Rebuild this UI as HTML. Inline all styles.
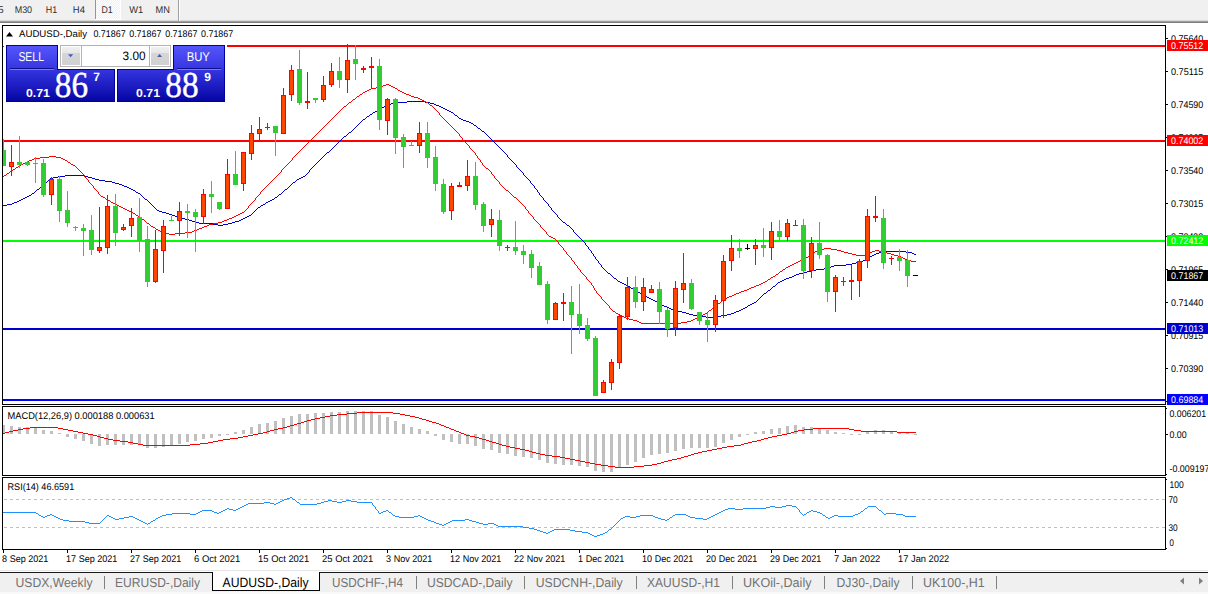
<!DOCTYPE html>
<html><head><meta charset="utf-8"><title>AUDUSD-,Daily</title>
<style>
html,body{margin:0;padding:0;background:#fff;overflow:hidden}
svg{display:block;font-family:"Liberation Sans",sans-serif;text-rendering:geometricPrecision}
</style></head><body>
<svg width="1208" height="594" viewBox="0 0 1208 594">
<g shape-rendering="crispEdges">
<rect x="0" y="0" width="1208" height="20" fill="#f0f0f0"/>
<rect x="0" y="20" width="1208" height="1" fill="#d6d6d6"/>
<rect x="0" y="21" width="1208" height="1" fill="#a0a0a0"/>
<rect x="0" y="22" width="1208" height="1" fill="#7e7e7e"/>
<defs><pattern id="hatch" width="2" height="2" patternUnits="userSpaceOnUse"><rect width="2" height="2" fill="#f0f0f0"/><rect width="1" height="1" fill="#fff"/><rect x="1" y="1" width="1" height="1" fill="#fff"/></pattern></defs>
<rect x="95" y="0" width="1" height="19" fill="#949494"/>
<rect x="96" y="0" width="24" height="19" fill="url(#hatch)"/>
<rect x="120" y="0" width="1" height="20" fill="#fff"/>
<rect x="95" y="19" width="26" height="1" fill="#fff"/>
<rect x="178" y="0" width="1" height="21" fill="#a0a0a0"/>
<rect x="179" y="0" width="1" height="21" fill="#ffffff"/>
<rect x="2" y="25" width="1164" height="1" fill="#000"/>
<rect x="2" y="404" width="1164" height="1" fill="#000"/>
<rect x="2" y="25" width="1" height="380" fill="#000"/>
<rect x="1165" y="25" width="1" height="380" fill="#000"/>
<rect x="2" y="406" width="1164" height="1" fill="#000"/>
<rect x="2" y="475" width="1164" height="1" fill="#000"/>
<rect x="2" y="406" width="1" height="70" fill="#000"/>
<rect x="1165" y="406" width="1" height="70" fill="#000"/>
<rect x="2" y="477" width="1164" height="1" fill="#000"/>
<rect x="2" y="549" width="1164" height="1" fill="#000"/>
<rect x="2" y="477" width="1" height="73" fill="#000"/>
<rect x="1165" y="477" width="1" height="73" fill="#000"/>
<path d="M4 499.5H1165" stroke="#c0c0c0" stroke-width="1" stroke-dasharray="3 3" fill="none"/>
<path d="M4 527.5H1165" stroke="#c0c0c0" stroke-width="1" stroke-dasharray="3 3" fill="none"/>
<rect x="3" y="45" width="1162" height="2" fill="#ff0000"/>
<rect x="3" y="140" width="1162" height="2" fill="#ff0000"/>
<rect x="3" y="240" width="1162" height="2" fill="#00ff00"/>
<rect x="3" y="328" width="1162" height="2" fill="#0000cd"/>
<rect x="3" y="399" width="1162" height="2" fill="#0000ff"/>
<rect x="3" y="425" width="2" height="9" fill="#c0c0c0"/>
<rect x="10" y="426" width="3" height="8" fill="#c0c0c0"/>
<rect x="18" y="427" width="3" height="7" fill="#c0c0c0"/>
<rect x="26" y="427" width="3" height="7" fill="#c0c0c0"/>
<rect x="34" y="428" width="3" height="6" fill="#c0c0c0"/>
<rect x="42" y="430" width="3" height="4" fill="#c0c0c0"/>
<rect x="50" y="431" width="3" height="3" fill="#c0c0c0"/>
<rect x="58" y="433" width="3" height="1" fill="#c0c0c0"/>
<rect x="66" y="434" width="3" height="3" fill="#c0c0c0"/>
<rect x="74" y="434" width="3" height="5" fill="#c0c0c0"/>
<rect x="82" y="434" width="3" height="7" fill="#c0c0c0"/>
<rect x="90" y="434" width="3" height="10" fill="#c0c0c0"/>
<rect x="98" y="434" width="3" height="12" fill="#c0c0c0"/>
<rect x="106" y="434" width="3" height="11" fill="#c0c0c0"/>
<rect x="114" y="434" width="3" height="11" fill="#c0c0c0"/>
<rect x="122" y="434" width="3" height="11" fill="#c0c0c0"/>
<rect x="130" y="434" width="3" height="11" fill="#c0c0c0"/>
<rect x="138" y="434" width="3" height="11" fill="#c0c0c0"/>
<rect x="146" y="434" width="3" height="14" fill="#c0c0c0"/>
<rect x="154" y="434" width="3" height="14" fill="#c0c0c0"/>
<rect x="162" y="434" width="3" height="13" fill="#c0c0c0"/>
<rect x="170" y="434" width="3" height="11" fill="#c0c0c0"/>
<rect x="178" y="434" width="3" height="10" fill="#c0c0c0"/>
<rect x="186" y="434" width="3" height="8" fill="#c0c0c0"/>
<rect x="194" y="434" width="3" height="7" fill="#c0c0c0"/>
<rect x="202" y="434" width="3" height="5" fill="#c0c0c0"/>
<rect x="210" y="434" width="3" height="4" fill="#c0c0c0"/>
<rect x="218" y="434" width="3" height="2" fill="#c0c0c0"/>
<rect x="226" y="434" width="3" height="1" fill="#c0c0c0"/>
<rect x="234" y="432" width="3" height="2" fill="#c0c0c0"/>
<rect x="242" y="430" width="3" height="4" fill="#c0c0c0"/>
<rect x="250" y="427" width="3" height="7" fill="#c0c0c0"/>
<rect x="258" y="424" width="3" height="10" fill="#c0c0c0"/>
<rect x="266" y="423" width="3" height="11" fill="#c0c0c0"/>
<rect x="274" y="421" width="3" height="13" fill="#c0c0c0"/>
<rect x="282" y="418" width="3" height="16" fill="#c0c0c0"/>
<rect x="290" y="416" width="3" height="18" fill="#c0c0c0"/>
<rect x="298" y="414" width="3" height="20" fill="#c0c0c0"/>
<rect x="306" y="414" width="3" height="20" fill="#c0c0c0"/>
<rect x="314" y="413" width="3" height="21" fill="#c0c0c0"/>
<rect x="322" y="413" width="3" height="21" fill="#c0c0c0"/>
<rect x="330" y="412" width="3" height="22" fill="#c0c0c0"/>
<rect x="338" y="412" width="3" height="22" fill="#c0c0c0"/>
<rect x="346" y="411" width="3" height="23" fill="#c0c0c0"/>
<rect x="354" y="411" width="3" height="23" fill="#c0c0c0"/>
<rect x="362" y="411" width="3" height="23" fill="#c0c0c0"/>
<rect x="370" y="411" width="3" height="23" fill="#c0c0c0"/>
<rect x="378" y="415" width="3" height="19" fill="#c0c0c0"/>
<rect x="386" y="417" width="3" height="17" fill="#c0c0c0"/>
<rect x="394" y="421" width="3" height="13" fill="#c0c0c0"/>
<rect x="402" y="424" width="3" height="10" fill="#c0c0c0"/>
<rect x="410" y="427" width="3" height="7" fill="#c0c0c0"/>
<rect x="418" y="429" width="3" height="5" fill="#c0c0c0"/>
<rect x="426" y="431" width="3" height="3" fill="#c0c0c0"/>
<rect x="434" y="434" width="3" height="2" fill="#c0c0c0"/>
<rect x="442" y="434" width="3" height="6" fill="#c0c0c0"/>
<rect x="450" y="434" width="3" height="8" fill="#c0c0c0"/>
<rect x="458" y="434" width="3" height="10" fill="#c0c0c0"/>
<rect x="466" y="434" width="3" height="10" fill="#c0c0c0"/>
<rect x="474" y="434" width="3" height="12" fill="#c0c0c0"/>
<rect x="482" y="434" width="3" height="15" fill="#c0c0c0"/>
<rect x="490" y="434" width="3" height="16" fill="#c0c0c0"/>
<rect x="498" y="434" width="3" height="19" fill="#c0c0c0"/>
<rect x="506" y="434" width="3" height="20" fill="#c0c0c0"/>
<rect x="514" y="434" width="3" height="22" fill="#c0c0c0"/>
<rect x="522" y="434" width="3" height="23" fill="#c0c0c0"/>
<rect x="530" y="434" width="3" height="24" fill="#c0c0c0"/>
<rect x="538" y="434" width="3" height="26" fill="#c0c0c0"/>
<rect x="546" y="434" width="3" height="29" fill="#c0c0c0"/>
<rect x="554" y="434" width="3" height="30" fill="#c0c0c0"/>
<rect x="562" y="434" width="3" height="31" fill="#c0c0c0"/>
<rect x="570" y="434" width="3" height="31" fill="#c0c0c0"/>
<rect x="578" y="434" width="3" height="32" fill="#c0c0c0"/>
<rect x="586" y="434" width="3" height="33" fill="#c0c0c0"/>
<rect x="594" y="434" width="3" height="37" fill="#c0c0c0"/>
<rect x="602" y="434" width="3" height="38" fill="#c0c0c0"/>
<rect x="610" y="434" width="3" height="38" fill="#c0c0c0"/>
<rect x="618" y="434" width="3" height="34" fill="#c0c0c0"/>
<rect x="626" y="434" width="3" height="31" fill="#c0c0c0"/>
<rect x="634" y="434" width="3" height="28" fill="#c0c0c0"/>
<rect x="642" y="434" width="3" height="24" fill="#c0c0c0"/>
<rect x="650" y="434" width="3" height="21" fill="#c0c0c0"/>
<rect x="658" y="434" width="3" height="20" fill="#c0c0c0"/>
<rect x="666" y="434" width="3" height="19" fill="#c0c0c0"/>
<rect x="674" y="434" width="3" height="17" fill="#c0c0c0"/>
<rect x="682" y="434" width="3" height="15" fill="#c0c0c0"/>
<rect x="690" y="434" width="3" height="14" fill="#c0c0c0"/>
<rect x="698" y="434" width="3" height="14" fill="#c0c0c0"/>
<rect x="706" y="434" width="3" height="14" fill="#c0c0c0"/>
<rect x="714" y="434" width="3" height="13" fill="#c0c0c0"/>
<rect x="722" y="434" width="3" height="9" fill="#c0c0c0"/>
<rect x="730" y="434" width="3" height="6" fill="#c0c0c0"/>
<rect x="738" y="434" width="3" height="3" fill="#c0c0c0"/>
<rect x="746" y="434" width="3" height="1" fill="#c0c0c0"/>
<rect x="754" y="432" width="3" height="2" fill="#c0c0c0"/>
<rect x="762" y="431" width="3" height="3" fill="#c0c0c0"/>
<rect x="770" y="429" width="3" height="5" fill="#c0c0c0"/>
<rect x="778" y="428" width="3" height="6" fill="#c0c0c0"/>
<rect x="786" y="426" width="3" height="8" fill="#c0c0c0"/>
<rect x="794" y="425" width="3" height="9" fill="#c0c0c0"/>
<rect x="802" y="427" width="3" height="7" fill="#c0c0c0"/>
<rect x="810" y="427" width="3" height="7" fill="#c0c0c0"/>
<rect x="818" y="428" width="3" height="6" fill="#c0c0c0"/>
<rect x="826" y="430" width="3" height="4" fill="#c0c0c0"/>
<rect x="834" y="432" width="3" height="2" fill="#c0c0c0"/>
<rect x="842" y="433" width="3" height="1" fill="#c0c0c0"/>
<rect x="850" y="434" width="3" height="1" fill="#c0c0c0"/>
<rect x="858" y="434" width="3" height="1" fill="#c0c0c0"/>
<rect x="866" y="431" width="3" height="3" fill="#c0c0c0"/>
<rect x="874" y="430" width="3" height="4" fill="#c0c0c0"/>
<rect x="882" y="430" width="3" height="4" fill="#c0c0c0"/>
<rect x="890" y="431" width="3" height="3" fill="#c0c0c0"/>
<rect x="898" y="432" width="3" height="2" fill="#c0c0c0"/>
<rect x="906" y="433" width="3" height="1" fill="#c0c0c0"/>
<rect x="914" y="434" width="3" height="1" fill="#c0c0c0"/>
<path d="M407 101h18v1h-18zM397 102h10v1h-10zM425 102h5v1h-5zM391 103h6v1h-6zM430 103h4v1h-4zM389 104h2v1h-2zM434 104h2v1h-2zM386 105h3v1h-3zM436 105h3v1h-3zM384 106h2v1h-2zM439 106h2v1h-2zM382 107h2v1h-2zM441 107h2v1h-2zM380 108h2v1h-2zM443 108h2v1h-2zM378 109h2v1h-2zM445 109h2v1h-2zM377 110h1v1h-1zM447 110h2v1h-2zM375 111h2v1h-2zM449 111h2v1h-2zM373 112h2v1h-2zM451 112h2v1h-2zM372 113h1v1h-1zM453 113h1v1h-1zM370 114h2v1h-2zM454 114h1v1h-1zM369 115h1v1h-1zM455 115h2v1h-2zM367 116h2v1h-2zM457 116h1v1h-1zM366 117h1v1h-1zM458 117h1v1h-1zM365 118h1v1h-1zM459 118h2v1h-2zM363 119h2v1h-2zM461 119h2v1h-2zM362 120h1v1h-1zM463 120h3v1h-3zM361 121h1v1h-1zM466 121h3v1h-3zM360 122h1v1h-1zM469 122h2v1h-2zM359 123h1v1h-1zM471 123h2v1h-2zM358 124h1v1h-1zM473 124h1v1h-1zM357 125h1v1h-1zM474 125h2v1h-2zM356 126h1v1h-1zM476 126h1v1h-1zM355 127h1v1h-1zM477 127h1v1h-1zM354 128h1v1h-1zM478 128h2v1h-2zM353 129h1v1h-1zM480 129h1v1h-1zM352 130h1v1h-1zM481 130h1v1h-1zM351 131h1v1h-1zM482 131h2v1h-2zM349 132h2v1h-2zM484 132h1v1h-1zM348 133h1v1h-1zM485 133h1v1h-1zM347 134h1v1h-1zM486 134h1v1h-1zM346 135h1v1h-1zM487 135h1v1h-1zM344 136h2v1h-2zM488 136h1v1h-1zM343 137h1v1h-1zM489 137h1v1h-1zM342 138h1v1h-1zM490 138h1v1h-1zM341 139h1v1h-1zM491 139h1v1h-1zM340 140h1v1h-1zM492 140h1v1h-1zM339 141h1v1h-1zM493 141h1v1h-1zM338 142h1v1h-1zM494 142h1v1h-1zM337 143h1v1h-1zM495 143h1v1h-1zM336 144h1v1h-1zM496 144h1v1h-1zM335 145h1v1h-1zM497 145h1v1h-1zM334 146h1v1h-1zM498 146h1v1h-1zM333 147h1v1h-1zM499 147h1v1h-1zM332 148h1v1h-1zM500 148h1v1h-1zM331 149h1v1h-1zM501 149h1v1h-1zM330 150h1v1h-1zM502 150h1v1h-1zM329 151h1v1h-1zM503 151h1v1h-1zM327 152h2v1h-2zM504 152h1v1h-1zM326 153h1v1h-1zM505 153h1v1h-1zM325 154h1v1h-1zM506 154h1v1h-1zM324 155h1v1h-1zM507 155h1v1h-1zM323 156h1v1h-1zM507 156h1v1h-1zM322 157h1v1h-1zM508 157h1v1h-1zM321 158h1v1h-1zM509 158h1v1h-1zM320 159h1v1h-1zM510 159h1v1h-1zM319 160h1v1h-1zM511 160h1v1h-1zM318 161h1v1h-1zM512 161h1v1h-1zM317 162h1v1h-1zM513 162h1v1h-1zM316 163h1v1h-1zM514 163h1v1h-1zM315 164h1v1h-1zM515 164h1v1h-1zM314 165h1v1h-1zM516 165h1v1h-1zM313 166h1v1h-1zM516 166h1v1h-1zM312 167h1v1h-1zM517 167h1v1h-1zM311 168h1v1h-1zM518 168h1v1h-1zM310 169h1v1h-1zM519 169h1v1h-1zM309 170h1v1h-1zM520 170h1v1h-1zM309 171h1v1h-1zM521 171h1v1h-1zM308 172h1v1h-1zM522 172h1v1h-1zM307 173h1v1h-1zM523 173h1v1h-1zM306 174h1v1h-1zM523 174h1v1h-1zM65 175h19v1h-19zM305 175h1v1h-1zM524 175h1v1h-1zM58 176h7v1h-7zM84 176h4v1h-4zM303 176h2v1h-2zM525 176h1v1h-1zM53 177h5v1h-5zM88 177h4v1h-4zM301 177h2v1h-2zM526 177h1v1h-1zM50 178h3v1h-3zM92 178h3v1h-3zM299 178h2v1h-2zM527 178h1v1h-1zM49 179h1v1h-1zM95 179h4v1h-4zM297 179h2v1h-2zM528 179h1v1h-1zM48 180h1v1h-1zM99 180h6v1h-6zM296 180h1v1h-1zM529 180h1v1h-1zM47 181h1v1h-1zM105 181h7v1h-7zM295 181h1v1h-1zM530 181h1v1h-1zM45 182h2v1h-2zM112 182h3v1h-3zM293 182h2v1h-2zM530 182h1v1h-1zM44 183h1v1h-1zM115 183h4v1h-4zM292 183h1v1h-1zM531 183h1v1h-1zM43 184h1v1h-1zM119 184h3v1h-3zM291 184h1v1h-1zM532 184h1v1h-1zM42 185h1v1h-1zM122 185h2v1h-2zM290 185h1v1h-1zM533 185h1v1h-1zM41 186h1v1h-1zM124 186h3v1h-3zM289 186h1v1h-1zM534 186h1v1h-1zM40 187h1v1h-1zM127 187h2v1h-2zM288 187h1v1h-1zM534 187h1v1h-1zM39 188h1v1h-1zM129 188h2v1h-2zM287 188h1v1h-1zM535 188h1v1h-1zM37 189h2v1h-2zM131 189h2v1h-2zM285 189h2v1h-2zM536 189h1v1h-1zM36 190h1v1h-1zM133 190h2v1h-2zM284 190h1v1h-1zM537 190h1v1h-1zM35 191h1v1h-1zM135 191h1v1h-1zM283 191h1v1h-1zM537 191h1v1h-1zM34 192h1v1h-1zM136 192h2v1h-2zM282 192h1v1h-1zM538 192h1v1h-1zM32 193h2v1h-2zM138 193h2v1h-2zM281 193h1v1h-1zM539 193h1v1h-1zM31 194h1v1h-1zM140 194h1v1h-1zM279 194h2v1h-2zM539 194h1v1h-1zM29 195h2v1h-2zM141 195h1v1h-1zM278 195h1v1h-1zM540 195h1v1h-1zM27 196h2v1h-2zM142 196h1v1h-1zM277 196h1v1h-1zM541 196h1v1h-1zM25 197h2v1h-2zM143 197h1v1h-1zM275 197h2v1h-2zM542 197h1v1h-1zM23 198h2v1h-2zM144 198h1v1h-1zM274 198h1v1h-1zM543 198h1v1h-1zM21 199h2v1h-2zM145 199h2v1h-2zM272 199h2v1h-2zM543 199h1v1h-1zM19 200h2v1h-2zM147 200h1v1h-1zM270 200h2v1h-2zM544 200h1v1h-1zM17 201h2v1h-2zM148 201h1v1h-1zM268 201h2v1h-2zM545 201h1v1h-1zM14 202h3v1h-3zM149 202h1v1h-1zM266 202h2v1h-2zM546 202h1v1h-1zM12 203h2v1h-2zM150 203h1v1h-1zM265 203h1v1h-1zM547 203h1v1h-1zM7 204h5v1h-5zM151 204h1v1h-1zM263 204h2v1h-2zM548 204h1v1h-1zM3 205h4v1h-4zM152 205h1v1h-1zM261 205h2v1h-2zM548 205h1v1h-1zM153 206h1v1h-1zM260 206h1v1h-1zM549 206h1v1h-1zM154 207h1v1h-1zM258 207h2v1h-2zM550 207h1v1h-1zM155 208h1v1h-1zM257 208h1v1h-1zM551 208h1v1h-1zM156 209h1v1h-1zM256 209h1v1h-1zM551 209h1v1h-1zM157 210h2v1h-2zM255 210h1v1h-1zM552 210h1v1h-1zM159 211h3v1h-3zM254 211h1v1h-1zM553 211h1v1h-1zM162 212h4v1h-4zM253 212h1v1h-1zM554 212h1v1h-1zM166 213h3v1h-3zM252 213h1v1h-1zM555 213h1v1h-1zM169 214h3v1h-3zM251 214h1v1h-1zM556 214h1v1h-1zM172 215h3v1h-3zM249 215h2v1h-2zM557 215h1v1h-1zM175 216h4v1h-4zM247 216h2v1h-2zM557 216h1v1h-1zM179 217h3v1h-3zM245 217h2v1h-2zM558 217h1v1h-1zM182 218h3v1h-3zM243 218h2v1h-2zM559 218h1v1h-1zM185 219h4v1h-4zM241 219h2v1h-2zM560 219h1v1h-1zM189 220h3v1h-3zM239 220h2v1h-2zM561 220h1v1h-1zM192 221h3v1h-3zM235 221h4v1h-4zM562 221h1v1h-1zM195 222h4v1h-4zM232 222h3v1h-3zM563 222h2v1h-2zM199 223h14v1h-14zM228 223h4v1h-4zM565 223h1v1h-1zM213 224h5v1h-5zM223 224h5v1h-5zM566 224h1v1h-1zM218 225h5v1h-5zM567 225h2v1h-2zM569 226h1v1h-1zM570 227h1v1h-1zM571 228h1v1h-1zM572 229h1v1h-1zM573 230h1v1h-1zM573 231h1v1h-1zM574 232h1v1h-1zM575 233h1v1h-1zM576 234h1v1h-1zM577 235h1v1h-1zM578 236h1v1h-1zM579 237h1v1h-1zM580 238h1v1h-1zM581 239h1v1h-1zM582 240h1v1h-1zM583 241h1v1h-1zM584 242h1v1h-1zM585 243h1v1h-1zM585 244h1v1h-1zM586 245h1v1h-1zM587 246h1v1h-1zM588 247h1v1h-1zM588 248h1v1h-1zM589 249h1v1h-1zM590 250h1v1h-1zM591 251h1v1h-1zM884 251h22v1h-22zM591 252h1v1h-1zM879 252h5v1h-5zM906 252h6v1h-6zM592 253h1v1h-1zM876 253h3v1h-3zM912 253h2v1h-2zM593 254h1v1h-1zM874 254h2v1h-2zM914 254h2v1h-2zM593 255h1v1h-1zM872 255h2v1h-2zM594 256h1v1h-1zM870 256h2v1h-2zM595 257h1v1h-1zM869 257h1v1h-1zM595 258h1v1h-1zM868 258h1v1h-1zM596 259h1v1h-1zM866 259h2v1h-2zM597 260h1v1h-1zM863 260h3v1h-3zM598 261h1v1h-1zM859 261h4v1h-4zM598 262h1v1h-1zM856 262h3v1h-3zM599 263h1v1h-1zM852 263h4v1h-4zM600 264h1v1h-1zM846 264h6v1h-6zM601 265h1v1h-1zM834 265h12v1h-12zM601 266h1v1h-1zM831 266h3v1h-3zM602 267h1v1h-1zM829 267h2v1h-2zM603 268h1v1h-1zM824 268h5v1h-5zM604 269h1v1h-1zM816 269h8v1h-8zM605 270h1v1h-1zM811 270h5v1h-5zM606 271h1v1h-1zM807 271h4v1h-4zM607 272h1v1h-1zM803 272h4v1h-4zM608 273h2v1h-2zM799 273h4v1h-4zM610 274h1v1h-1zM796 274h3v1h-3zM611 275h1v1h-1zM794 275h2v1h-2zM612 276h1v1h-1zM792 276h2v1h-2zM613 277h1v1h-1zM789 277h3v1h-3zM614 278h2v1h-2zM786 278h3v1h-3zM616 279h1v1h-1zM784 279h2v1h-2zM617 280h1v1h-1zM782 280h2v1h-2zM618 281h2v1h-2zM780 281h2v1h-2zM620 282h2v1h-2zM778 282h2v1h-2zM622 283h2v1h-2zM777 283h1v1h-1zM624 284h2v1h-2zM776 284h1v1h-1zM626 285h2v1h-2zM775 285h1v1h-1zM628 286h2v1h-2zM773 286h2v1h-2zM630 287h1v1h-1zM772 287h1v1h-1zM631 288h2v1h-2zM771 288h1v1h-1zM633 289h2v1h-2zM770 289h1v1h-1zM635 290h1v1h-1zM768 290h2v1h-2zM636 291h2v1h-2zM767 291h1v1h-1zM638 292h2v1h-2zM766 292h1v1h-1zM640 293h2v1h-2zM764 293h2v1h-2zM642 294h1v1h-1zM763 294h1v1h-1zM643 295h2v1h-2zM762 295h1v1h-1zM645 296h2v1h-2zM761 296h1v1h-1zM647 297h2v1h-2zM760 297h1v1h-1zM649 298h2v1h-2zM759 298h1v1h-1zM651 299h2v1h-2zM758 299h1v1h-1zM653 300h2v1h-2zM757 300h1v1h-1zM655 301h2v1h-2zM756 301h1v1h-1zM657 302h1v1h-1zM754 302h2v1h-2zM658 303h2v1h-2zM752 303h2v1h-2zM660 304h2v1h-2zM750 304h2v1h-2zM662 305h2v1h-2zM748 305h2v1h-2zM664 306h3v1h-3zM747 306h1v1h-1zM667 307h2v1h-2zM745 307h2v1h-2zM669 308h2v1h-2zM743 308h2v1h-2zM671 309h3v1h-3zM741 309h2v1h-2zM674 310h4v1h-4zM739 310h2v1h-2zM678 311h4v1h-4zM736 311h3v1h-3zM682 312h4v1h-4zM734 312h2v1h-2zM686 313h3v1h-3zM731 313h3v1h-3zM689 314h4v1h-4zM727 314h4v1h-4zM693 315h6v1h-6zM721 315h6v1h-6zM699 316h7v1h-7zM714 316h7v1h-7zM706 317h8v1h-8z" fill="#0000cd"/>
<path d="M386 84h3v1h-3zM383 85h3v1h-3zM389 85h2v1h-2zM381 86h2v1h-2zM391 86h2v1h-2zM376 87h5v1h-5zM393 87h2v1h-2zM371 88h5v1h-5zM395 88h2v1h-2zM369 89h2v1h-2zM397 89h1v1h-1zM367 90h2v1h-2zM398 90h2v1h-2zM365 91h2v1h-2zM400 91h2v1h-2zM363 92h2v1h-2zM402 92h2v1h-2zM362 93h1v1h-1zM404 93h2v1h-2zM360 94h2v1h-2zM406 94h3v1h-3zM359 95h1v1h-1zM409 95h2v1h-2zM357 96h2v1h-2zM411 96h3v1h-3zM356 97h1v1h-1zM414 97h4v1h-4zM355 98h1v1h-1zM418 98h2v1h-2zM353 99h2v1h-2zM420 99h2v1h-2zM352 100h1v1h-1zM422 100h2v1h-2zM351 101h1v1h-1zM424 101h2v1h-2zM349 102h2v1h-2zM426 102h2v1h-2zM348 103h1v1h-1zM428 103h1v1h-1zM347 104h1v1h-1zM429 104h1v1h-1zM346 105h1v1h-1zM430 105h2v1h-2zM344 106h2v1h-2zM432 106h1v1h-1zM343 107h1v1h-1zM433 107h1v1h-1zM342 108h1v1h-1zM434 108h1v1h-1zM341 109h1v1h-1zM435 109h1v1h-1zM340 110h1v1h-1zM436 110h1v1h-1zM339 111h1v1h-1zM437 111h1v1h-1zM338 112h1v1h-1zM438 112h1v1h-1zM337 113h1v1h-1zM439 113h1v1h-1zM336 114h1v1h-1zM439 114h1v1h-1zM335 115h1v1h-1zM440 115h1v1h-1zM334 116h1v1h-1zM441 116h1v1h-1zM333 117h1v1h-1zM442 117h1v1h-1zM332 118h1v1h-1zM443 118h1v1h-1zM331 119h1v1h-1zM444 119h1v1h-1zM330 120h1v1h-1zM445 120h1v1h-1zM329 121h1v1h-1zM446 121h1v1h-1zM328 122h1v1h-1zM447 122h1v1h-1zM327 123h1v1h-1zM448 123h1v1h-1zM326 124h1v1h-1zM449 124h1v1h-1zM325 125h1v1h-1zM450 125h1v1h-1zM324 126h1v1h-1zM451 126h1v1h-1zM323 127h1v1h-1zM452 127h1v1h-1zM322 128h1v1h-1zM453 128h1v1h-1zM321 129h1v1h-1zM454 129h1v1h-1zM320 130h1v1h-1zM455 130h1v1h-1zM319 131h1v1h-1zM456 131h1v1h-1zM318 132h1v1h-1zM457 132h1v1h-1zM317 133h1v1h-1zM458 133h1v1h-1zM316 134h1v1h-1zM459 134h1v1h-1zM315 135h1v1h-1zM459 135h1v1h-1zM314 136h1v1h-1zM460 136h1v1h-1zM313 137h1v1h-1zM461 137h1v1h-1zM312 138h1v1h-1zM462 138h1v1h-1zM311 139h1v1h-1zM462 139h1v1h-1zM310 140h1v1h-1zM463 140h1v1h-1zM309 141h1v1h-1zM464 141h1v1h-1zM308 142h1v1h-1zM465 142h1v1h-1zM307 143h1v1h-1zM466 143h1v1h-1zM306 144h1v1h-1zM467 144h1v1h-1zM305 145h1v1h-1zM468 145h1v1h-1zM304 146h1v1h-1zM469 146h1v1h-1zM303 147h1v1h-1zM469 147h1v1h-1zM302 148h1v1h-1zM470 148h1v1h-1zM301 149h1v1h-1zM471 149h1v1h-1zM300 150h1v1h-1zM472 150h1v1h-1zM299 151h1v1h-1zM473 151h1v1h-1zM298 152h1v1h-1zM474 152h1v1h-1zM297 153h1v1h-1zM475 153h1v1h-1zM296 154h1v1h-1zM475 154h1v1h-1zM295 155h1v1h-1zM476 155h1v1h-1zM49 156h7v1h-7zM294 156h1v1h-1zM477 156h1v1h-1zM40 157h9v1h-9zM56 157h5v1h-5zM293 157h1v1h-1zM477 157h1v1h-1zM34 158h6v1h-6zM61 158h2v1h-2zM292 158h1v1h-1zM478 158h1v1h-1zM32 159h2v1h-2zM63 159h2v1h-2zM292 159h1v1h-1zM479 159h1v1h-1zM29 160h3v1h-3zM65 160h2v1h-2zM291 160h1v1h-1zM480 160h1v1h-1zM27 161h2v1h-2zM67 161h1v1h-1zM290 161h1v1h-1zM480 161h1v1h-1zM25 162h2v1h-2zM68 162h2v1h-2zM289 162h1v1h-1zM481 162h1v1h-1zM23 163h2v1h-2zM70 163h1v1h-1zM288 163h1v1h-1zM482 163h1v1h-1zM21 164h2v1h-2zM71 164h2v1h-2zM287 164h1v1h-1zM482 164h1v1h-1zM20 165h1v1h-1zM73 165h2v1h-2zM286 165h1v1h-1zM483 165h1v1h-1zM18 166h2v1h-2zM75 166h1v1h-1zM285 166h1v1h-1zM484 166h1v1h-1zM16 167h2v1h-2zM76 167h1v1h-1zM284 167h1v1h-1zM485 167h1v1h-1zM15 168h1v1h-1zM77 168h1v1h-1zM283 168h1v1h-1zM486 168h2v1h-2zM13 169h2v1h-2zM78 169h1v1h-1zM282 169h1v1h-1zM488 169h1v1h-1zM12 170h1v1h-1zM79 170h1v1h-1zM281 170h1v1h-1zM489 170h1v1h-1zM10 171h2v1h-2zM80 171h1v1h-1zM281 171h1v1h-1zM490 171h1v1h-1zM9 172h1v1h-1zM81 172h1v1h-1zM280 172h1v1h-1zM491 172h1v1h-1zM7 173h2v1h-2zM82 173h1v1h-1zM279 173h1v1h-1zM491 173h1v1h-1zM6 174h1v1h-1zM83 174h1v1h-1zM278 174h1v1h-1zM492 174h1v1h-1zM4 175h2v1h-2zM84 175h1v1h-1zM277 175h1v1h-1zM493 175h1v1h-1zM3 176h1v1h-1zM84 176h1v1h-1zM276 176h1v1h-1zM494 176h1v1h-1zM85 177h1v1h-1zM275 177h1v1h-1zM494 177h1v1h-1zM86 178h1v1h-1zM274 178h1v1h-1zM495 178h1v1h-1zM87 179h1v1h-1zM273 179h1v1h-1zM496 179h1v1h-1zM88 180h1v1h-1zM272 180h1v1h-1zM497 180h1v1h-1zM88 181h1v1h-1zM271 181h1v1h-1zM498 181h1v1h-1zM89 182h1v1h-1zM270 182h1v1h-1zM499 182h1v1h-1zM90 183h1v1h-1zM269 183h1v1h-1zM499 183h1v1h-1zM91 184h1v1h-1zM268 184h1v1h-1zM500 184h1v1h-1zM92 185h1v1h-1zM267 185h1v1h-1zM501 185h1v1h-1zM93 186h1v1h-1zM266 186h1v1h-1zM502 186h1v1h-1zM93 187h1v1h-1zM265 187h1v1h-1zM503 187h1v1h-1zM94 188h1v1h-1zM264 188h1v1h-1zM504 188h1v1h-1zM95 189h1v1h-1zM263 189h1v1h-1zM505 189h1v1h-1zM96 190h1v1h-1zM262 190h1v1h-1zM506 190h2v1h-2zM97 191h1v1h-1zM261 191h1v1h-1zM508 191h1v1h-1zM98 192h1v1h-1zM260 192h1v1h-1zM509 192h1v1h-1zM98 193h1v1h-1zM260 193h1v1h-1zM510 193h1v1h-1zM99 194h1v1h-1zM259 194h1v1h-1zM511 194h1v1h-1zM100 195h1v1h-1zM258 195h1v1h-1zM512 195h1v1h-1zM101 196h2v1h-2zM257 196h1v1h-1zM513 196h1v1h-1zM103 197h2v1h-2zM256 197h1v1h-1zM514 197h2v1h-2zM105 198h1v1h-1zM255 198h1v1h-1zM516 198h1v1h-1zM106 199h2v1h-2zM255 199h1v1h-1zM517 199h1v1h-1zM108 200h2v1h-2zM254 200h1v1h-1zM518 200h1v1h-1zM110 201h1v1h-1zM253 201h1v1h-1zM519 201h1v1h-1zM111 202h2v1h-2zM252 202h1v1h-1zM520 202h1v1h-1zM113 203h2v1h-2zM251 203h1v1h-1zM521 203h1v1h-1zM115 204h2v1h-2zM250 204h1v1h-1zM522 204h1v1h-1zM117 205h2v1h-2zM249 205h1v1h-1zM523 205h1v1h-1zM119 206h2v1h-2zM248 206h1v1h-1zM524 206h1v1h-1zM121 207h2v1h-2zM248 207h1v1h-1zM525 207h1v1h-1zM123 208h2v1h-2zM247 208h1v1h-1zM525 208h1v1h-1zM125 209h2v1h-2zM246 209h1v1h-1zM526 209h1v1h-1zM127 210h2v1h-2zM245 210h1v1h-1zM527 210h1v1h-1zM129 211h2v1h-2zM244 211h1v1h-1zM528 211h1v1h-1zM131 212h2v1h-2zM242 212h2v1h-2zM528 212h1v1h-1zM133 213h2v1h-2zM240 213h2v1h-2zM529 213h1v1h-1zM135 214h1v1h-1zM238 214h2v1h-2zM530 214h1v1h-1zM136 215h2v1h-2zM236 215h2v1h-2zM531 215h1v1h-1zM138 216h2v1h-2zM234 216h2v1h-2zM532 216h1v1h-1zM140 217h1v1h-1zM232 217h2v1h-2zM533 217h1v1h-1zM141 218h1v1h-1zM229 218h3v1h-3zM533 218h1v1h-1zM142 219h2v1h-2zM227 219h2v1h-2zM534 219h1v1h-1zM144 220h1v1h-1zM224 220h3v1h-3zM535 220h1v1h-1zM145 221h1v1h-1zM222 221h2v1h-2zM536 221h1v1h-1zM146 222h1v1h-1zM218 222h4v1h-4zM537 222h1v1h-1zM147 223h2v1h-2zM213 223h5v1h-5zM538 223h1v1h-1zM149 224h1v1h-1zM209 224h4v1h-4zM539 224h1v1h-1zM150 225h1v1h-1zM207 225h2v1h-2zM540 225h1v1h-1zM151 226h2v1h-2zM204 226h3v1h-3zM540 226h1v1h-1zM153 227h2v1h-2zM202 227h2v1h-2zM541 227h1v1h-1zM155 228h1v1h-1zM199 228h3v1h-3zM542 228h1v1h-1zM156 229h2v1h-2zM197 229h2v1h-2zM543 229h1v1h-1zM158 230h2v1h-2zM194 230h3v1h-3zM544 230h1v1h-1zM160 231h2v1h-2zM192 231h2v1h-2zM545 231h1v1h-1zM162 232h3v1h-3zM185 232h7v1h-7zM546 232h1v1h-1zM165 233h4v1h-4zM175 233h10v1h-10zM546 233h1v1h-1zM169 234h6v1h-6zM547 234h1v1h-1zM548 235h1v1h-1zM549 236h2v1h-2zM551 237h2v1h-2zM553 238h2v1h-2zM555 239h1v1h-1zM556 240h1v1h-1zM557 241h1v1h-1zM558 242h1v1h-1zM558 243h1v1h-1zM559 244h1v1h-1zM560 245h1v1h-1zM561 246h1v1h-1zM562 247h1v1h-1zM563 248h1v1h-1zM824 248h7v1h-7zM563 249h1v1h-1zM819 249h5v1h-5zM831 249h6v1h-6zM564 250h1v1h-1zM817 250h2v1h-2zM837 250h4v1h-4zM875 250h4v1h-4zM565 251h1v1h-1zM815 251h2v1h-2zM841 251h3v1h-3zM872 251h3v1h-3zM879 251h4v1h-4zM566 252h1v1h-1zM813 252h2v1h-2zM844 252h4v1h-4zM870 252h2v1h-2zM883 252h4v1h-4zM566 253h1v1h-1zM812 253h1v1h-1zM848 253h4v1h-4zM868 253h2v1h-2zM887 253h4v1h-4zM567 254h1v1h-1zM810 254h2v1h-2zM852 254h4v1h-4zM866 254h2v1h-2zM891 254h3v1h-3zM568 255h1v1h-1zM809 255h1v1h-1zM856 255h10v1h-10zM894 255h4v1h-4zM569 256h1v1h-1zM808 256h1v1h-1zM898 256h3v1h-3zM570 257h1v1h-1zM806 257h2v1h-2zM901 257h2v1h-2zM571 258h1v1h-1zM804 258h2v1h-2zM903 258h2v1h-2zM571 259h1v1h-1zM802 259h2v1h-2zM905 259h2v1h-2zM572 260h1v1h-1zM800 260h2v1h-2zM907 260h4v1h-4zM573 261h1v1h-1zM798 261h2v1h-2zM911 261h5v1h-5zM574 262h1v1h-1zM796 262h2v1h-2zM574 263h1v1h-1zM794 263h2v1h-2zM575 264h1v1h-1zM792 264h2v1h-2zM576 265h1v1h-1zM790 265h2v1h-2zM577 266h1v1h-1zM788 266h2v1h-2zM577 267h1v1h-1zM786 267h2v1h-2zM578 268h1v1h-1zM785 268h1v1h-1zM579 269h1v1h-1zM783 269h2v1h-2zM580 270h1v1h-1zM782 270h1v1h-1zM580 271h1v1h-1zM780 271h2v1h-2zM581 272h1v1h-1zM779 272h1v1h-1zM582 273h1v1h-1zM778 273h1v1h-1zM583 274h1v1h-1zM776 274h2v1h-2zM584 275h1v1h-1zM775 275h1v1h-1zM585 276h1v1h-1zM773 276h2v1h-2zM586 277h1v1h-1zM771 277h2v1h-2zM586 278h1v1h-1zM770 278h1v1h-1zM587 279h1v1h-1zM768 279h2v1h-2zM588 280h1v1h-1zM767 280h1v1h-1zM589 281h1v1h-1zM765 281h2v1h-2zM590 282h1v1h-1zM763 282h2v1h-2zM591 283h1v1h-1zM761 283h2v1h-2zM591 284h1v1h-1zM759 284h2v1h-2zM592 285h1v1h-1zM756 285h3v1h-3zM593 286h1v1h-1zM754 286h2v1h-2zM593 287h1v1h-1zM751 287h3v1h-3zM594 288h1v1h-1zM749 288h2v1h-2zM594 289h1v1h-1zM747 289h2v1h-2zM595 290h1v1h-1zM744 290h3v1h-3zM596 291h1v1h-1zM741 291h3v1h-3zM596 292h1v1h-1zM739 292h2v1h-2zM597 293h1v1h-1zM736 293h3v1h-3zM598 294h1v1h-1zM734 294h2v1h-2zM599 295h1v1h-1zM732 295h2v1h-2zM600 296h1v1h-1zM729 296h3v1h-3zM601 297h1v1h-1zM727 297h2v1h-2zM601 298h1v1h-1zM725 298h2v1h-2zM602 299h1v1h-1zM723 299h2v1h-2zM603 300h1v1h-1zM722 300h1v1h-1zM604 301h1v1h-1zM721 301h1v1h-1zM605 302h1v1h-1zM720 302h1v1h-1zM606 303h1v1h-1zM718 303h2v1h-2zM607 304h1v1h-1zM717 304h1v1h-1zM608 305h1v1h-1zM716 305h1v1h-1zM609 306h1v1h-1zM715 306h1v1h-1zM609 307h1v1h-1zM713 307h2v1h-2zM610 308h1v1h-1zM712 308h1v1h-1zM611 309h1v1h-1zM711 309h1v1h-1zM612 310h1v1h-1zM709 310h2v1h-2zM613 311h2v1h-2zM708 311h1v1h-1zM615 312h1v1h-1zM707 312h1v1h-1zM616 313h2v1h-2zM705 313h2v1h-2zM618 314h2v1h-2zM703 314h2v1h-2zM620 315h2v1h-2zM701 315h2v1h-2zM622 316h2v1h-2zM699 316h2v1h-2zM624 317h2v1h-2zM697 317h2v1h-2zM626 318h3v1h-3zM695 318h2v1h-2zM629 319h4v1h-4zM693 319h2v1h-2zM633 320h4v1h-4zM691 320h2v1h-2zM637 321h2v1h-2zM687 321h4v1h-4zM639 322h2v1h-2zM681 322h6v1h-6zM641 323h40v1h-40z" fill="#ff0000"/>
<rect x="3" y="139" width="1" height="27" fill="#32cd32"/>
<rect x="3" y="150" width="3" height="16" fill="#32cd32"/>
<rect x="11" y="145" width="1" height="31" fill="#ff0000"/>
<rect x="9" y="162" width="5" height="5" fill="#ff0000"/>
<rect x="10" y="163" width="3" height="3" fill="#ff4500"/>
<rect x="19" y="136" width="1" height="32" fill="#32cd32"/>
<rect x="17" y="162" width="5" height="3" fill="#32cd32"/>
<rect x="27" y="161" width="1" height="5" fill="#32cd32"/>
<rect x="25" y="162" width="5" height="3" fill="#32cd32"/>
<rect x="35" y="157" width="1" height="26" fill="#32cd32"/>
<rect x="33" y="163" width="5" height="1" fill="#32cd32"/>
<rect x="43" y="159" width="1" height="38" fill="#32cd32"/>
<rect x="41" y="163" width="5" height="32" fill="#32cd32"/>
<rect x="51" y="177" width="1" height="28" fill="#ff0000"/>
<rect x="49" y="179" width="5" height="16" fill="#ff0000"/>
<rect x="50" y="180" width="3" height="14" fill="#ff4500"/>
<rect x="59" y="176" width="1" height="46" fill="#32cd32"/>
<rect x="57" y="179" width="5" height="32" fill="#32cd32"/>
<rect x="67" y="191" width="1" height="36" fill="#32cd32"/>
<rect x="65" y="210" width="5" height="13" fill="#32cd32"/>
<rect x="75" y="226" width="1" height="5" fill="#32cd32"/>
<rect x="73" y="227" width="5" height="1" fill="#32cd32"/>
<rect x="83" y="224" width="1" height="32" fill="#32cd32"/>
<rect x="81" y="228" width="5" height="3" fill="#32cd32"/>
<rect x="91" y="215" width="1" height="40" fill="#32cd32"/>
<rect x="89" y="230" width="5" height="20" fill="#32cd32"/>
<rect x="99" y="207" width="1" height="46" fill="#ff0000"/>
<rect x="97" y="247" width="5" height="4" fill="#ff0000"/>
<rect x="98" y="248" width="3" height="2" fill="#ff4500"/>
<rect x="107" y="195" width="1" height="59" fill="#ff0000"/>
<rect x="105" y="206" width="5" height="42" fill="#ff0000"/>
<rect x="106" y="207" width="3" height="40" fill="#ff4500"/>
<rect x="115" y="194" width="1" height="52" fill="#32cd32"/>
<rect x="113" y="206" width="5" height="27" fill="#32cd32"/>
<rect x="123" y="224" width="1" height="7" fill="#ff0000"/>
<rect x="121" y="227" width="5" height="3" fill="#ff0000"/>
<rect x="122" y="228" width="3" height="1" fill="#ff4500"/>
<rect x="131" y="208" width="1" height="29" fill="#ff0000"/>
<rect x="129" y="218" width="5" height="8" fill="#ff0000"/>
<rect x="130" y="219" width="3" height="6" fill="#ff4500"/>
<rect x="139" y="198" width="1" height="54" fill="#32cd32"/>
<rect x="137" y="217" width="5" height="24" fill="#32cd32"/>
<rect x="147" y="226" width="1" height="61" fill="#32cd32"/>
<rect x="145" y="239" width="5" height="43" fill="#32cd32"/>
<rect x="155" y="230" width="1" height="53" fill="#ff0000"/>
<rect x="153" y="249" width="5" height="33" fill="#ff0000"/>
<rect x="154" y="250" width="3" height="31" fill="#ff4500"/>
<rect x="163" y="220" width="1" height="53" fill="#ff0000"/>
<rect x="161" y="226" width="5" height="25" fill="#ff0000"/>
<rect x="162" y="227" width="3" height="23" fill="#ff4500"/>
<rect x="171" y="216" width="1" height="5" fill="#32cd32"/>
<rect x="169" y="220" width="5" height="1" fill="#32cd32"/>
<rect x="179" y="202" width="1" height="34" fill="#ff0000"/>
<rect x="177" y="211" width="5" height="10" fill="#ff0000"/>
<rect x="178" y="212" width="3" height="8" fill="#ff4500"/>
<rect x="187" y="204" width="1" height="34" fill="#32cd32"/>
<rect x="185" y="211" width="5" height="2" fill="#32cd32"/>
<rect x="195" y="209" width="1" height="43" fill="#32cd32"/>
<rect x="193" y="212" width="5" height="5" fill="#32cd32"/>
<rect x="203" y="189" width="1" height="35" fill="#ff0000"/>
<rect x="201" y="194" width="5" height="23" fill="#ff0000"/>
<rect x="202" y="195" width="3" height="21" fill="#ff4500"/>
<rect x="211" y="181" width="1" height="32" fill="#32cd32"/>
<rect x="209" y="194" width="5" height="3" fill="#32cd32"/>
<rect x="219" y="202" width="1" height="8" fill="#32cd32"/>
<rect x="217" y="202" width="5" height="7" fill="#32cd32"/>
<rect x="227" y="159" width="1" height="50" fill="#ff0000"/>
<rect x="225" y="174" width="5" height="35" fill="#ff0000"/>
<rect x="226" y="175" width="3" height="33" fill="#ff4500"/>
<rect x="235" y="151" width="1" height="34" fill="#32cd32"/>
<rect x="233" y="174" width="5" height="11" fill="#32cd32"/>
<rect x="243" y="152" width="1" height="39" fill="#ff0000"/>
<rect x="241" y="152" width="5" height="32" fill="#ff0000"/>
<rect x="242" y="153" width="3" height="30" fill="#ff4500"/>
<rect x="251" y="125" width="1" height="35" fill="#ff0000"/>
<rect x="249" y="133" width="5" height="21" fill="#ff0000"/>
<rect x="250" y="134" width="3" height="19" fill="#ff4500"/>
<rect x="259" y="117" width="1" height="23" fill="#ff0000"/>
<rect x="257" y="129" width="5" height="5" fill="#ff0000"/>
<rect x="258" y="130" width="3" height="3" fill="#ff4500"/>
<rect x="267" y="123" width="1" height="7" fill="#ff0000"/>
<rect x="265" y="127" width="5" height="1" fill="#ff0000"/>
<rect x="275" y="126" width="1" height="30" fill="#32cd32"/>
<rect x="273" y="126" width="5" height="7" fill="#32cd32"/>
<rect x="283" y="88" width="1" height="46" fill="#ff0000"/>
<rect x="281" y="95" width="5" height="39" fill="#ff0000"/>
<rect x="282" y="96" width="3" height="37" fill="#ff4500"/>
<rect x="291" y="65" width="1" height="36" fill="#ff0000"/>
<rect x="289" y="70" width="5" height="25" fill="#ff0000"/>
<rect x="290" y="71" width="3" height="23" fill="#ff4500"/>
<rect x="299" y="50" width="1" height="55" fill="#32cd32"/>
<rect x="297" y="69" width="5" height="34" fill="#32cd32"/>
<rect x="307" y="72" width="1" height="37" fill="#ff0000"/>
<rect x="305" y="101" width="5" height="2" fill="#ff0000"/>
<rect x="315" y="98" width="1" height="5" fill="#32cd32"/>
<rect x="313" y="98" width="5" height="2" fill="#32cd32"/>
<rect x="323" y="76" width="1" height="26" fill="#ff0000"/>
<rect x="321" y="85" width="5" height="15" fill="#ff0000"/>
<rect x="322" y="86" width="3" height="13" fill="#ff4500"/>
<rect x="331" y="63" width="1" height="24" fill="#ff0000"/>
<rect x="329" y="71" width="5" height="14" fill="#ff0000"/>
<rect x="330" y="72" width="3" height="12" fill="#ff4500"/>
<rect x="339" y="57" width="1" height="31" fill="#32cd32"/>
<rect x="337" y="71" width="5" height="9" fill="#32cd32"/>
<rect x="347" y="44" width="1" height="49" fill="#ff0000"/>
<rect x="345" y="60" width="5" height="20" fill="#ff0000"/>
<rect x="346" y="61" width="3" height="18" fill="#ff4500"/>
<rect x="355" y="45" width="1" height="35" fill="#32cd32"/>
<rect x="353" y="59" width="5" height="5" fill="#32cd32"/>
<rect x="363" y="66" width="1" height="7" fill="#ff0000"/>
<rect x="361" y="68" width="5" height="2" fill="#ff0000"/>
<rect x="371" y="57" width="1" height="31" fill="#ff0000"/>
<rect x="369" y="66" width="5" height="2" fill="#ff0000"/>
<rect x="379" y="59" width="1" height="71" fill="#32cd32"/>
<rect x="377" y="66" width="5" height="54" fill="#32cd32"/>
<rect x="387" y="98" width="1" height="37" fill="#ff0000"/>
<rect x="385" y="99" width="5" height="22" fill="#ff0000"/>
<rect x="386" y="100" width="3" height="20" fill="#ff4500"/>
<rect x="395" y="98" width="1" height="56" fill="#32cd32"/>
<rect x="393" y="99" width="5" height="39" fill="#32cd32"/>
<rect x="403" y="134" width="1" height="34" fill="#32cd32"/>
<rect x="401" y="137" width="5" height="10" fill="#32cd32"/>
<rect x="411" y="141" width="1" height="5" fill="#32cd32"/>
<rect x="409" y="145" width="5" height="1" fill="#32cd32"/>
<rect x="419" y="122" width="1" height="31" fill="#ff0000"/>
<rect x="417" y="133" width="5" height="13" fill="#ff0000"/>
<rect x="418" y="134" width="3" height="11" fill="#ff4500"/>
<rect x="427" y="122" width="1" height="46" fill="#32cd32"/>
<rect x="425" y="133" width="5" height="25" fill="#32cd32"/>
<rect x="435" y="146" width="1" height="45" fill="#32cd32"/>
<rect x="433" y="157" width="5" height="27" fill="#32cd32"/>
<rect x="443" y="179" width="1" height="35" fill="#32cd32"/>
<rect x="441" y="184" width="5" height="28" fill="#32cd32"/>
<rect x="451" y="183" width="1" height="37" fill="#ff0000"/>
<rect x="449" y="186" width="5" height="25" fill="#ff0000"/>
<rect x="450" y="187" width="3" height="23" fill="#ff4500"/>
<rect x="459" y="182" width="1" height="5" fill="#ff0000"/>
<rect x="457" y="185" width="5" height="2" fill="#ff0000"/>
<rect x="467" y="160" width="1" height="31" fill="#ff0000"/>
<rect x="465" y="176" width="5" height="10" fill="#ff0000"/>
<rect x="466" y="177" width="3" height="8" fill="#ff4500"/>
<rect x="475" y="162" width="1" height="48" fill="#32cd32"/>
<rect x="473" y="176" width="5" height="29" fill="#32cd32"/>
<rect x="483" y="202" width="1" height="30" fill="#32cd32"/>
<rect x="481" y="204" width="5" height="22" fill="#32cd32"/>
<rect x="491" y="209" width="1" height="28" fill="#ff0000"/>
<rect x="489" y="219" width="5" height="6" fill="#ff0000"/>
<rect x="490" y="220" width="3" height="4" fill="#ff4500"/>
<rect x="499" y="210" width="1" height="41" fill="#32cd32"/>
<rect x="497" y="220" width="5" height="26" fill="#32cd32"/>
<rect x="507" y="245" width="1" height="6" fill="#ff0000"/>
<rect x="505" y="247" width="5" height="1" fill="#ff0000"/>
<rect x="515" y="221" width="1" height="34" fill="#32cd32"/>
<rect x="513" y="247" width="5" height="4" fill="#32cd32"/>
<rect x="523" y="245" width="1" height="19" fill="#32cd32"/>
<rect x="521" y="251" width="5" height="4" fill="#32cd32"/>
<rect x="531" y="250" width="1" height="28" fill="#32cd32"/>
<rect x="529" y="254" width="5" height="14" fill="#32cd32"/>
<rect x="539" y="262" width="1" height="23" fill="#32cd32"/>
<rect x="537" y="266" width="5" height="19" fill="#32cd32"/>
<rect x="547" y="281" width="1" height="43" fill="#32cd32"/>
<rect x="545" y="284" width="5" height="36" fill="#32cd32"/>
<rect x="555" y="302" width="1" height="18" fill="#ff0000"/>
<rect x="553" y="303" width="5" height="17" fill="#ff0000"/>
<rect x="554" y="304" width="3" height="15" fill="#ff4500"/>
<rect x="563" y="293" width="1" height="28" fill="#ff0000"/>
<rect x="561" y="302" width="5" height="2" fill="#ff0000"/>
<rect x="571" y="286" width="1" height="68" fill="#32cd32"/>
<rect x="569" y="302" width="5" height="13" fill="#32cd32"/>
<rect x="579" y="284" width="1" height="50" fill="#32cd32"/>
<rect x="577" y="314" width="5" height="12" fill="#32cd32"/>
<rect x="587" y="318" width="1" height="23" fill="#32cd32"/>
<rect x="585" y="325" width="5" height="14" fill="#32cd32"/>
<rect x="595" y="336" width="1" height="60" fill="#32cd32"/>
<rect x="593" y="338" width="5" height="58" fill="#32cd32"/>
<rect x="603" y="380" width="1" height="13" fill="#ff0000"/>
<rect x="601" y="382" width="5" height="11" fill="#ff0000"/>
<rect x="602" y="383" width="3" height="9" fill="#ff4500"/>
<rect x="611" y="359" width="1" height="31" fill="#ff0000"/>
<rect x="609" y="362" width="5" height="21" fill="#ff0000"/>
<rect x="610" y="363" width="3" height="19" fill="#ff4500"/>
<rect x="619" y="315" width="1" height="54" fill="#ff0000"/>
<rect x="617" y="316" width="5" height="47" fill="#ff0000"/>
<rect x="618" y="317" width="3" height="45" fill="#ff4500"/>
<rect x="627" y="277" width="1" height="43" fill="#ff0000"/>
<rect x="625" y="287" width="5" height="30" fill="#ff0000"/>
<rect x="626" y="288" width="3" height="28" fill="#ff4500"/>
<rect x="635" y="276" width="1" height="32" fill="#32cd32"/>
<rect x="633" y="287" width="5" height="15" fill="#32cd32"/>
<rect x="643" y="278" width="1" height="33" fill="#ff0000"/>
<rect x="641" y="287" width="5" height="15" fill="#ff0000"/>
<rect x="642" y="288" width="3" height="13" fill="#ff4500"/>
<rect x="651" y="285" width="1" height="8" fill="#ff0000"/>
<rect x="649" y="289" width="5" height="4" fill="#ff0000"/>
<rect x="650" y="290" width="3" height="2" fill="#ff4500"/>
<rect x="659" y="282" width="1" height="42" fill="#32cd32"/>
<rect x="657" y="289" width="5" height="23" fill="#32cd32"/>
<rect x="667" y="308" width="1" height="29" fill="#32cd32"/>
<rect x="665" y="310" width="5" height="19" fill="#32cd32"/>
<rect x="675" y="281" width="1" height="55" fill="#ff0000"/>
<rect x="673" y="288" width="5" height="40" fill="#ff0000"/>
<rect x="674" y="289" width="3" height="38" fill="#ff4500"/>
<rect x="683" y="253" width="1" height="50" fill="#ff0000"/>
<rect x="681" y="283" width="5" height="7" fill="#ff0000"/>
<rect x="682" y="284" width="3" height="5" fill="#ff4500"/>
<rect x="691" y="279" width="1" height="31" fill="#32cd32"/>
<rect x="689" y="283" width="5" height="26" fill="#32cd32"/>
<rect x="699" y="312" width="1" height="13" fill="#32cd32"/>
<rect x="697" y="312" width="5" height="9" fill="#32cd32"/>
<rect x="707" y="313" width="1" height="29" fill="#32cd32"/>
<rect x="705" y="320" width="5" height="5" fill="#32cd32"/>
<rect x="715" y="295" width="1" height="37" fill="#ff0000"/>
<rect x="713" y="300" width="5" height="25" fill="#ff0000"/>
<rect x="714" y="301" width="3" height="23" fill="#ff4500"/>
<rect x="723" y="255" width="1" height="63" fill="#ff0000"/>
<rect x="721" y="261" width="5" height="40" fill="#ff0000"/>
<rect x="722" y="262" width="3" height="38" fill="#ff4500"/>
<rect x="731" y="235" width="1" height="36" fill="#ff0000"/>
<rect x="729" y="248" width="5" height="13" fill="#ff0000"/>
<rect x="730" y="249" width="3" height="11" fill="#ff4500"/>
<rect x="739" y="239" width="1" height="19" fill="#32cd32"/>
<rect x="737" y="248" width="5" height="3" fill="#32cd32"/>
<rect x="747" y="244" width="1" height="6" fill="#000"/>
<rect x="745" y="248" width="5" height="1" fill="#000"/>
<rect x="755" y="239" width="1" height="26" fill="#ff0000"/>
<rect x="753" y="245" width="5" height="4" fill="#ff0000"/>
<rect x="754" y="246" width="3" height="2" fill="#ff4500"/>
<rect x="763" y="228" width="1" height="29" fill="#32cd32"/>
<rect x="761" y="245" width="5" height="3" fill="#32cd32"/>
<rect x="771" y="222" width="1" height="38" fill="#ff0000"/>
<rect x="769" y="231" width="5" height="17" fill="#ff0000"/>
<rect x="770" y="232" width="3" height="15" fill="#ff4500"/>
<rect x="779" y="220" width="1" height="21" fill="#32cd32"/>
<rect x="777" y="231" width="5" height="6" fill="#32cd32"/>
<rect x="787" y="219" width="1" height="22" fill="#ff0000"/>
<rect x="785" y="223" width="5" height="14" fill="#ff0000"/>
<rect x="786" y="224" width="3" height="12" fill="#ff4500"/>
<rect x="795" y="220" width="1" height="6" fill="#ff0000"/>
<rect x="793" y="225" width="5" height="1" fill="#ff0000"/>
<rect x="803" y="219" width="1" height="60" fill="#32cd32"/>
<rect x="801" y="225" width="5" height="46" fill="#32cd32"/>
<rect x="811" y="237" width="1" height="41" fill="#ff0000"/>
<rect x="809" y="243" width="5" height="28" fill="#ff0000"/>
<rect x="810" y="244" width="3" height="26" fill="#ff4500"/>
<rect x="819" y="222" width="1" height="37" fill="#32cd32"/>
<rect x="817" y="243" width="5" height="12" fill="#32cd32"/>
<rect x="827" y="254" width="1" height="48" fill="#32cd32"/>
<rect x="825" y="255" width="5" height="37" fill="#32cd32"/>
<rect x="835" y="275" width="1" height="37" fill="#ff0000"/>
<rect x="833" y="277" width="5" height="15" fill="#ff0000"/>
<rect x="834" y="278" width="3" height="13" fill="#ff4500"/>
<rect x="843" y="277" width="1" height="9" fill="#ff0000"/>
<rect x="841" y="281" width="5" height="1" fill="#ff0000"/>
<rect x="851" y="265" width="1" height="35" fill="#ff0000"/>
<rect x="849" y="280" width="5" height="2" fill="#ff0000"/>
<rect x="859" y="259" width="1" height="38" fill="#ff0000"/>
<rect x="857" y="261" width="5" height="20" fill="#ff0000"/>
<rect x="858" y="262" width="3" height="18" fill="#ff4500"/>
<rect x="867" y="209" width="1" height="59" fill="#ff0000"/>
<rect x="865" y="216" width="5" height="45" fill="#ff0000"/>
<rect x="866" y="217" width="3" height="43" fill="#ff4500"/>
<rect x="875" y="196" width="1" height="26" fill="#ff0000"/>
<rect x="873" y="216" width="5" height="2" fill="#ff0000"/>
<rect x="883" y="209" width="1" height="60" fill="#32cd32"/>
<rect x="881" y="218" width="5" height="45" fill="#32cd32"/>
<rect x="891" y="256" width="1" height="9" fill="#ff0000"/>
<rect x="889" y="258" width="5" height="1" fill="#ff0000"/>
<rect x="899" y="249" width="1" height="22" fill="#32cd32"/>
<rect x="897" y="257" width="5" height="4" fill="#32cd32"/>
<rect x="907" y="250" width="1" height="37" fill="#32cd32"/>
<rect x="905" y="260" width="5" height="16" fill="#32cd32"/>
<rect x="915" y="275" width="1" height="1" fill="#000"/>
<rect x="913" y="275" width="5" height="1" fill="#000"/>
<path d="M357 412h36v1h-36zM347 413h10v1h-10zM393 413h7v1h-7zM337 414h10v1h-10zM400 414h5v1h-5zM330 415h7v1h-7zM405 415h5v1h-5zM325 416h5v1h-5zM410 416h5v1h-5zM320 417h5v1h-5zM415 417h4v1h-4zM315 418h5v1h-5zM419 418h3v1h-3zM311 419h4v1h-4zM422 419h4v1h-4zM307 420h4v1h-4zM426 420h3v1h-3zM304 421h3v1h-3zM429 421h3v1h-3zM301 422h3v1h-3zM432 422h4v1h-4zM297 423h4v1h-4zM436 423h3v1h-3zM294 424h3v1h-3zM439 424h2v1h-2zM290 425h4v1h-4zM441 425h3v1h-3zM287 426h3v1h-3zM444 426h2v1h-2zM30 427h28v1h-28zM283 427h4v1h-4zM446 427h3v1h-3zM23 428h7v1h-7zM58 428h5v1h-5zM278 428h5v1h-5zM449 428h2v1h-2zM813 428h36v1h-36zM18 429h5v1h-5zM63 429h5v1h-5zM274 429h4v1h-4zM451 429h3v1h-3zM804 429h9v1h-9zM849 429h5v1h-5zM13 430h5v1h-5zM68 430h5v1h-5zM270 430h4v1h-4zM454 430h2v1h-2zM798 430h6v1h-6zM854 430h7v1h-7zM9 431h4v1h-4zM73 431h5v1h-5zM267 431h3v1h-3zM456 431h3v1h-3zM794 431h4v1h-4zM861 431h36v1h-36zM5 432h4v1h-4zM78 432h5v1h-5zM263 432h4v1h-4zM459 432h2v1h-2zM791 432h3v1h-3zM897 432h19v1h-19zM3 433h2v1h-2zM83 433h5v1h-5zM258 433h5v1h-5zM461 433h3v1h-3zM787 433h4v1h-4zM88 434h5v1h-5zM253 434h5v1h-5zM464 434h2v1h-2zM782 434h5v1h-5zM93 435h4v1h-4zM248 435h5v1h-5zM466 435h4v1h-4zM777 435h5v1h-5zM97 436h3v1h-3zM243 436h5v1h-5zM470 436h5v1h-5zM772 436h5v1h-5zM100 437h4v1h-4zM238 437h5v1h-5zM475 437h4v1h-4zM768 437h4v1h-4zM104 438h4v1h-4zM230 438h8v1h-8zM479 438h3v1h-3zM764 438h4v1h-4zM108 439h5v1h-5zM223 439h7v1h-7zM482 439h4v1h-4zM761 439h3v1h-3zM113 440h7v1h-7zM218 440h5v1h-5zM486 440h3v1h-3zM757 440h4v1h-4zM120 441h8v1h-8zM213 441h5v1h-5zM489 441h3v1h-3zM752 441h5v1h-5zM128 442h5v1h-5zM208 442h5v1h-5zM492 442h4v1h-4zM748 442h4v1h-4zM133 443h5v1h-5zM200 443h8v1h-8zM496 443h3v1h-3zM744 443h4v1h-4zM138 444h5v1h-5zM190 444h10v1h-10zM499 444h3v1h-3zM741 444h3v1h-3zM143 445h47v1h-47zM502 445h4v1h-4zM734 445h7v1h-7zM506 446h4v1h-4zM727 446h7v1h-7zM510 447h5v1h-5zM722 447h5v1h-5zM515 448h5v1h-5zM717 448h5v1h-5zM520 449h5v1h-5zM712 449h5v1h-5zM525 450h4v1h-4zM707 450h5v1h-5zM529 451h3v1h-3zM702 451h5v1h-5zM532 452h4v1h-4zM698 452h4v1h-4zM536 453h4v1h-4zM694 453h4v1h-4zM540 454h5v1h-5zM691 454h3v1h-3zM545 455h7v1h-7zM688 455h3v1h-3zM552 456h8v1h-8zM684 456h4v1h-4zM560 457h5v1h-5zM681 457h3v1h-3zM565 458h5v1h-5zM677 458h4v1h-4zM570 459h5v1h-5zM672 459h5v1h-5zM575 460h5v1h-5zM668 460h4v1h-4zM580 461h5v1h-5zM664 461h4v1h-4zM585 462h5v1h-5zM661 462h3v1h-3zM590 463h5v1h-5zM657 463h4v1h-4zM595 464h6v1h-6zM652 464h5v1h-5zM601 465h7v1h-7zM644 465h8v1h-8zM608 466h7v1h-7zM634 466h10v1h-10zM615 467h19v1h-19z" fill="#ff0000"/>
<path d="M290 497h2v1h-2zM287 498h3v1h-3zM292 498h1v1h-1zM284 499h3v1h-3zM293 499h2v1h-2zM282 500h2v1h-2zM295 500h1v1h-1zM328 500h4v1h-4zM346 500h5v1h-5zM280 501h2v1h-2zM296 501h1v1h-1zM324 501h4v1h-4zM332 501h5v1h-5zM342 501h4v1h-4zM351 501h6v1h-6zM264 502h6v1h-6zM278 502h2v1h-2zM297 502h2v1h-2zM321 502h3v1h-3zM337 502h5v1h-5zM357 502h15v1h-15zM248 503h16v1h-16zM270 503h4v1h-4zM276 503h2v1h-2zM299 503h1v1h-1zM317 503h4v1h-4zM372 503h1v1h-1zM246 504h2v1h-2zM274 504h2v1h-2zM300 504h17v1h-17zM372 504h1v1h-1zM244 505h2v1h-2zM373 505h1v1h-1zM786 505h6v1h-6zM242 506h2v1h-2zM374 506h1v1h-1zM770 506h5v1h-5zM782 506h4v1h-4zM792 506h4v1h-4zM868 506h8v1h-8zM240 507h2v1h-2zM375 507h1v1h-1zM766 507h4v1h-4zM775 507h7v1h-7zM796 507h1v1h-1zM867 507h1v1h-1zM876 507h1v1h-1zM227 508h2v1h-2zM238 508h2v1h-2zM375 508h1v1h-1zM728 508h7v1h-7zM743 508h23v1h-23zM797 508h1v1h-1zM865 508h2v1h-2zM877 508h1v1h-1zM225 509h2v1h-2zM229 509h4v1h-4zM236 509h2v1h-2zM376 509h1v1h-1zM725 509h3v1h-3zM735 509h8v1h-8zM798 509h1v1h-1zM864 509h1v1h-1zM878 509h1v1h-1zM202 510h10v1h-10zM223 510h2v1h-2zM233 510h3v1h-3zM377 510h1v1h-1zM386 510h2v1h-2zM723 510h2v1h-2zM799 510h1v1h-1zM811 510h2v1h-2zM863 510h1v1h-1zM879 510h2v1h-2zM200 511h2v1h-2zM212 511h2v1h-2zM221 511h2v1h-2zM378 511h1v1h-1zM383 511h3v1h-3zM388 511h1v1h-1zM721 511h2v1h-2zM799 511h1v1h-1zM809 511h2v1h-2zM813 511h4v1h-4zM861 511h2v1h-2zM881 511h1v1h-1zM3 512h33v1h-33zM198 512h2v1h-2zM214 512h3v1h-3zM219 512h2v1h-2zM378 512h1v1h-1zM381 512h2v1h-2zM389 512h2v1h-2zM719 512h2v1h-2zM800 512h1v1h-1zM807 512h2v1h-2zM817 512h3v1h-3zM860 512h1v1h-1zM882 512h1v1h-1zM36 513h2v1h-2zM172 513h18v1h-18zM196 513h2v1h-2zM217 513h2v1h-2zM379 513h2v1h-2zM391 513h1v1h-1zM717 513h2v1h-2zM801 513h1v1h-1zM806 513h1v1h-1zM820 513h2v1h-2zM858 513h2v1h-2zM883 513h1v1h-1zM886 513h10v1h-10zM38 514h1v1h-1zM50 514h2v1h-2zM166 514h6v1h-6zM190 514h6v1h-6zM392 514h1v1h-1zM675 514h11v1h-11zM715 514h2v1h-2zM802 514h1v1h-1zM804 514h2v1h-2zM822 514h1v1h-1zM855 514h3v1h-3zM884 514h2v1h-2zM896 514h7v1h-7zM39 515h2v1h-2zM47 515h3v1h-3zM52 515h2v1h-2zM107 515h2v1h-2zM162 515h4v1h-4zM393 515h2v1h-2zM418 515h2v1h-2zM640 515h13v1h-13zM673 515h2v1h-2zM686 515h2v1h-2zM713 515h2v1h-2zM803 515h1v1h-1zM823 515h2v1h-2zM834 515h4v1h-4zM853 515h2v1h-2zM903 515h2v1h-2zM41 516h2v1h-2zM45 516h2v1h-2zM54 516h2v1h-2zM106 516h1v1h-1zM109 516h2v1h-2zM129 516h4v1h-4zM160 516h2v1h-2zM395 516h4v1h-4zM414 516h4v1h-4zM420 516h2v1h-2zM625 516h5v1h-5zM636 516h4v1h-4zM653 516h2v1h-2zM672 516h1v1h-1zM688 516h2v1h-2zM711 516h2v1h-2zM825 516h1v1h-1zM832 516h2v1h-2zM838 516h15v1h-15zM905 516h11v1h-11zM43 517h2v1h-2zM56 517h2v1h-2zM105 517h1v1h-1zM111 517h2v1h-2zM124 517h5v1h-5zM133 517h2v1h-2zM158 517h2v1h-2zM399 517h15v1h-15zM422 517h2v1h-2zM623 517h2v1h-2zM630 517h6v1h-6zM655 517h3v1h-3zM670 517h2v1h-2zM690 517h5v1h-5zM709 517h2v1h-2zM826 517h2v1h-2zM830 517h2v1h-2zM58 518h2v1h-2zM104 518h1v1h-1zM113 518h2v1h-2zM119 518h5v1h-5zM135 518h2v1h-2zM156 518h2v1h-2zM424 518h2v1h-2zM621 518h2v1h-2zM658 518h3v1h-3zM669 518h1v1h-1zM695 518h8v1h-8zM707 518h2v1h-2zM828 518h2v1h-2zM60 519h3v1h-3zM103 519h1v1h-1zM115 519h4v1h-4zM137 519h2v1h-2zM155 519h1v1h-1zM426 519h2v1h-2zM465 519h4v1h-4zM620 519h1v1h-1zM661 519h4v1h-4zM667 519h2v1h-2zM703 519h4v1h-4zM63 520h6v1h-6zM102 520h1v1h-1zM139 520h2v1h-2zM153 520h2v1h-2zM428 520h3v1h-3zM452 520h13v1h-13zM469 520h3v1h-3zM619 520h1v1h-1zM665 520h2v1h-2zM69 521h16v1h-16zM101 521h1v1h-1zM141 521h2v1h-2zM151 521h2v1h-2zM431 521h3v1h-3zM450 521h2v1h-2zM472 521h4v1h-4zM618 521h1v1h-1zM85 522h4v1h-4zM100 522h1v1h-1zM143 522h2v1h-2zM150 522h1v1h-1zM434 522h2v1h-2zM448 522h2v1h-2zM476 522h3v1h-3zM617 522h1v1h-1zM89 523h11v1h-11zM145 523h2v1h-2zM148 523h2v1h-2zM436 523h3v1h-3zM446 523h2v1h-2zM479 523h4v1h-4zM488 523h6v1h-6zM616 523h1v1h-1zM147 524h1v1h-1zM439 524h3v1h-3zM444 524h2v1h-2zM483 524h5v1h-5zM494 524h2v1h-2zM615 524h1v1h-1zM442 525h2v1h-2zM496 525h2v1h-2zM614 525h1v1h-1zM498 526h25v1h-25zM613 526h1v1h-1zM523 527h6v1h-6zM612 527h1v1h-1zM529 528h5v1h-5zM611 528h1v1h-1zM534 529h3v1h-3zM554 529h16v1h-16zM609 529h2v1h-2zM537 530h3v1h-3zM552 530h2v1h-2zM570 530h5v1h-5zM608 530h1v1h-1zM540 531h3v1h-3zM550 531h2v1h-2zM575 531h7v1h-7zM607 531h1v1h-1zM543 532h3v1h-3zM548 532h2v1h-2zM582 532h6v1h-6zM605 532h2v1h-2zM546 533h2v1h-2zM588 533h2v1h-2zM603 533h2v1h-2zM590 534h2v1h-2zM600 534h3v1h-3zM592 535h2v1h-2zM597 535h3v1h-3zM594 536h3v1h-3z" fill="#1e90ff"/>
<rect x="1166" y="38" width="2" height="1" fill="#000"/>
<rect x="1166" y="71" width="2" height="1" fill="#000"/>
<rect x="1166" y="104" width="2" height="1" fill="#000"/>
<rect x="1166" y="137" width="2" height="1" fill="#000"/>
<rect x="1166" y="170" width="2" height="1" fill="#000"/>
<rect x="1166" y="203" width="2" height="1" fill="#000"/>
<rect x="1166" y="236" width="2" height="1" fill="#000"/>
<rect x="1166" y="269" width="2" height="1" fill="#000"/>
<rect x="1166" y="302" width="2" height="1" fill="#000"/>
<rect x="1166" y="335" width="2" height="1" fill="#000"/>
<rect x="1166" y="368" width="2" height="1" fill="#000"/>
<rect x="1166" y="401" width="2" height="1" fill="#000"/>
<rect x="1166" y="434" width="2" height="1" fill="#000"/>
<rect x="1166" y="408" width="1" height="1" fill="#000"/>
<rect x="1166" y="474" width="1" height="1" fill="#000"/>
<rect x="1166" y="479" width="1" height="1" fill="#000"/>
<rect x="1166" y="548" width="1" height="1" fill="#000"/>
<rect x="3" y="550" width="1" height="3" fill="#000"/>
<rect x="67" y="550" width="1" height="3" fill="#000"/>
<rect x="131" y="550" width="1" height="3" fill="#000"/>
<rect x="195" y="550" width="1" height="3" fill="#000"/>
<rect x="259" y="550" width="1" height="3" fill="#000"/>
<rect x="323" y="550" width="1" height="3" fill="#000"/>
<rect x="387" y="550" width="1" height="3" fill="#000"/>
<rect x="451" y="550" width="1" height="3" fill="#000"/>
<rect x="515" y="550" width="1" height="3" fill="#000"/>
<rect x="579" y="550" width="1" height="3" fill="#000"/>
<rect x="643" y="550" width="1" height="3" fill="#000"/>
<rect x="707" y="550" width="1" height="3" fill="#000"/>
<rect x="771" y="550" width="1" height="3" fill="#000"/>
<rect x="835" y="550" width="1" height="3" fill="#000"/>
<rect x="899" y="550" width="1" height="3" fill="#000"/>
</g>
<text x="1171" y="42" font-size="9.7" fill="#000" textLength="32.3" lengthAdjust="spacingAndGlyphs">0.75640</text>
<text x="1171" y="75" font-size="9.7" fill="#000" textLength="32.3" lengthAdjust="spacingAndGlyphs">0.75115</text>
<text x="1171" y="108" font-size="9.7" fill="#000" textLength="32.3" lengthAdjust="spacingAndGlyphs">0.74590</text>
<text x="1171" y="141" font-size="9.7" fill="#000" textLength="32.3" lengthAdjust="spacingAndGlyphs">0.74065</text>
<text x="1171" y="174" font-size="9.7" fill="#000" textLength="32.3" lengthAdjust="spacingAndGlyphs">0.73540</text>
<text x="1171" y="207" font-size="9.7" fill="#000" textLength="32.3" lengthAdjust="spacingAndGlyphs">0.73015</text>
<text x="1171" y="240" font-size="9.7" fill="#000" textLength="32.3" lengthAdjust="spacingAndGlyphs">0.72490</text>
<text x="1171" y="273" font-size="9.7" fill="#000" textLength="32.3" lengthAdjust="spacingAndGlyphs">0.71965</text>
<text x="1171" y="306" font-size="9.7" fill="#000" textLength="32.3" lengthAdjust="spacingAndGlyphs">0.71440</text>
<text x="1171" y="339" font-size="9.7" fill="#000" textLength="32.3" lengthAdjust="spacingAndGlyphs">0.70915</text>
<text x="1171" y="372" font-size="9.7" fill="#000" textLength="32.3" lengthAdjust="spacingAndGlyphs">0.70390</text>
<text x="1171" y="405" font-size="9.7" fill="#000" textLength="32.3" lengthAdjust="spacingAndGlyphs">0.69865</text>
<rect x="1167" y="40" width="41" height="11" fill="#ff0000" shape-rendering="crispEdges"/>
<text x="1171" y="49" font-size="9.7" fill="#fff" textLength="32.3" lengthAdjust="spacingAndGlyphs">0.75512</text>
<rect x="1167" y="135" width="41" height="11" fill="#ff0000" shape-rendering="crispEdges"/>
<text x="1171" y="144" font-size="9.7" fill="#fff" textLength="32.3" lengthAdjust="spacingAndGlyphs">0.74002</text>
<rect x="1167" y="235" width="41" height="11" fill="#00ff00" shape-rendering="crispEdges"/>
<text x="1171" y="244" font-size="9.7" fill="#fff" textLength="32.3" lengthAdjust="spacingAndGlyphs">0.72412</text>
<rect x="1167" y="270" width="41" height="11" fill="#000" shape-rendering="crispEdges"/>
<text x="1171" y="279" font-size="9.7" fill="#fff" textLength="32.3" lengthAdjust="spacingAndGlyphs">0.71867</text>
<rect x="1167" y="323" width="41" height="11" fill="#0000cd" shape-rendering="crispEdges"/>
<text x="1171" y="332" font-size="9.7" fill="#fff" textLength="32.3" lengthAdjust="spacingAndGlyphs">0.71013</text>
<rect x="1167" y="394" width="41" height="11" fill="#0000ff" shape-rendering="crispEdges"/>
<text x="1171" y="403" font-size="9.7" fill="#fff" textLength="32.3" lengthAdjust="spacingAndGlyphs">0.69884</text>
<text x="1169.5" y="417" font-size="9.7" fill="#000" textLength="36.5" lengthAdjust="spacingAndGlyphs">0.006201</text>
<text x="1169.5" y="437.7" font-size="9.7" fill="#000" textLength="17.2" lengthAdjust="spacingAndGlyphs">0.00</text>
<text x="1169.5" y="472" font-size="9.7" fill="#000" textLength="40" lengthAdjust="spacingAndGlyphs">-0.009197</text>
<text x="1169.5" y="488.2" font-size="9.7" fill="#000" textLength="14.2" lengthAdjust="spacingAndGlyphs">100</text>
<text x="1168.5" y="503.2" font-size="9.7" fill="#000" textLength="9.2" lengthAdjust="spacingAndGlyphs">70</text>
<text x="1168.5" y="531.2" font-size="9.7" fill="#000" textLength="9.2" lengthAdjust="spacingAndGlyphs">30</text>
<text x="1169.5" y="546" font-size="9.7" fill="#000" textLength="4.4" lengthAdjust="spacingAndGlyphs">0</text>
<path d="M6 36.5 L9.5 32 L13 36.5Z" fill="#000"/>
<text x="19" y="37" font-size="9.7" fill="#000" textLength="68" lengthAdjust="spacingAndGlyphs">AUDUSD-,Daily</text>
<text x="93.4" y="37" font-size="9.7" fill="#000" textLength="32.2" lengthAdjust="spacingAndGlyphs">0.71867</text>
<text x="129.2" y="37" font-size="9.7" fill="#000" textLength="32.2" lengthAdjust="spacingAndGlyphs">0.71867</text>
<text x="165.2" y="37" font-size="9.7" fill="#000" textLength="32.2" lengthAdjust="spacingAndGlyphs">0.71867</text>
<text x="201" y="37" font-size="9.7" fill="#000" textLength="32.2" lengthAdjust="spacingAndGlyphs">0.71867</text>
<text x="7.5" y="419.2" font-size="9.7" fill="#000" textLength="147.2" lengthAdjust="spacingAndGlyphs">MACD(12,26,9) 0.000188 0.000631</text>
<text x="7.5" y="490.2" font-size="9.7" fill="#000" textLength="66.7" lengthAdjust="spacingAndGlyphs">RSI(14) 46.6591</text>
<text x="2.1" y="562" font-size="9.7" fill="#000" textLength="46.2" lengthAdjust="spacingAndGlyphs">8 Sep 2021</text>
<text x="66.1" y="562" font-size="9.7" fill="#000" textLength="51.2" lengthAdjust="spacingAndGlyphs">17 Sep 2021</text>
<text x="130.1" y="562" font-size="9.7" fill="#000" textLength="51.2" lengthAdjust="spacingAndGlyphs">27 Sep 2021</text>
<text x="194.1" y="562" font-size="9.7" fill="#000" textLength="46.2" lengthAdjust="spacingAndGlyphs">6 Oct 2021</text>
<text x="258.1" y="562" font-size="9.7" fill="#000" textLength="51.2" lengthAdjust="spacingAndGlyphs">15 Oct 2021</text>
<text x="322.1" y="562" font-size="9.7" fill="#000" textLength="51.2" lengthAdjust="spacingAndGlyphs">25 Oct 2021</text>
<text x="386.1" y="562" font-size="9.7" fill="#000" textLength="46.2" lengthAdjust="spacingAndGlyphs">3 Nov 2021</text>
<text x="450.1" y="562" font-size="9.7" fill="#000" textLength="51.2" lengthAdjust="spacingAndGlyphs">12 Nov 2021</text>
<text x="514.1" y="562" font-size="9.7" fill="#000" textLength="51.2" lengthAdjust="spacingAndGlyphs">22 Nov 2021</text>
<text x="578.1" y="562" font-size="9.7" fill="#000" textLength="46.2" lengthAdjust="spacingAndGlyphs">1 Dec 2021</text>
<text x="642.1" y="562" font-size="9.7" fill="#000" textLength="51.2" lengthAdjust="spacingAndGlyphs">10 Dec 2021</text>
<text x="706.1" y="562" font-size="9.7" fill="#000" textLength="51.2" lengthAdjust="spacingAndGlyphs">20 Dec 2021</text>
<text x="770.1" y="562" font-size="9.7" fill="#000" textLength="51.2" lengthAdjust="spacingAndGlyphs">29 Dec 2021</text>
<text x="834.1" y="562" font-size="9.7" fill="#000" textLength="46.2" lengthAdjust="spacingAndGlyphs">7 Jan 2022</text>
<text x="898.1" y="562" font-size="9.7" fill="#000" textLength="51.2" lengthAdjust="spacingAndGlyphs">17 Jan 2022</text>
<text x="-1.8" y="13" font-size="9.7" fill="#303030">5</text>
<text x="14.7" y="13" font-size="9.7" fill="#303030" textLength="17.4" lengthAdjust="spacingAndGlyphs">M30</text>
<text x="45.7" y="13" font-size="9.7" fill="#303030" textLength="11.4" lengthAdjust="spacingAndGlyphs">H1</text>
<text x="72.8" y="13" font-size="9.7" fill="#303030" textLength="12.1" lengthAdjust="spacingAndGlyphs">H4</text>
<text x="101.5" y="13" font-size="9.7" fill="#303030" textLength="11.2" lengthAdjust="spacingAndGlyphs">D1</text>
<text x="129.3" y="13" font-size="9.7" fill="#303030" textLength="14" lengthAdjust="spacingAndGlyphs">W1</text>
<text x="155.6" y="13" font-size="9.7" fill="#303030" textLength="14.4" lengthAdjust="spacingAndGlyphs">MN</text>
<defs>
<linearGradient id="gb" x1="0" y1="0" x2="0" y2="1"><stop offset="0" stop-color="#5555fb"/><stop offset="0.42" stop-color="#3636e2"/><stop offset="1" stop-color="#0606a4"/></linearGradient>
<linearGradient id="gs" x1="0" y1="0" x2="0" y2="1"><stop offset="0" stop-color="#f0f0f0"/><stop offset="0.33" stop-color="#e6e6e6"/><stop offset="0.34" stop-color="#d6d6d6"/><stop offset="1" stop-color="#d0d0d0"/></linearGradient>
</defs>
<g shape-rendering="crispEdges">
<rect x="4" y="44" width="223" height="58" fill="#fff"/>
<rect x="3" y="45" width="1" height="1" fill="#fff"/>
<path d="M6 45H58V69H115V102H6Z" fill="#0000a0"/>
<path d="M173 45H225V102H117V69H173Z" fill="#0000a0"/>
<path d="M7 46H57V70H114V101H7Z" fill="url(#gb)"/>
<path d="M174 46H224V101H118V70H174Z" fill="url(#gb)"/>
<rect x="10" y="68" width="44" height="1" fill="#10108c"/>
<rect x="10" y="69" width="44" height="1" fill="#7878f0"/>
<rect x="177" y="68" width="44" height="1" fill="#10108c"/>
<rect x="177" y="69" width="44" height="1" fill="#7878f0"/>
<rect x="60" y="45" width="111" height="22" fill="#b4b4b4"/>
<rect x="61" y="46" width="109" height="20" fill="#fff"/>
<rect x="62" y="47" width="18" height="18" fill="url(#gs)"/>
<rect x="81" y="46" width="1" height="20" fill="#b4b4b4"/>
<rect x="151" y="47" width="18" height="18" fill="url(#gs)"/>
<rect x="149" y="46" width="1" height="20" fill="#b4b4b4"/>
</g>
<path d="M68 54.2h5.2l-2.6 3.1z" fill="#4a5ab8"/>
<path d="M157.1 56.9h5l-2.5-2.9z" fill="#4a5ab8"/>
<text x="18.4" y="61.1" font-size="12.8" fill="#fff" textLength="25.6" lengthAdjust="spacingAndGlyphs">SELL</text>
<text x="186.7" y="61.1" font-size="12.8" fill="#fff" textLength="23.2" lengthAdjust="spacingAndGlyphs">BUY</text>
<text x="122.6" y="60.2" font-size="12.2" fill="#000" textLength="23" lengthAdjust="spacingAndGlyphs">3.00</text>
<text x="25.9" y="96.9" font-size="11.6" fill="#fff" textLength="24" lengthAdjust="spacingAndGlyphs" font-weight="bold">0.71</text>
<text x="136.1" y="96.9" font-size="11.6" fill="#fff" textLength="24" lengthAdjust="spacingAndGlyphs" font-weight="bold">0.71</text>
<text x="54.8" y="97" font-size="36.5" fill="#fff" textLength="33.3" lengthAdjust="spacingAndGlyphs" font-family="Liberation Serif, sans-serif" stroke="#fff" stroke-width="0.45">86</text>
<text x="165.3" y="97" font-size="36.5" fill="#fff" textLength="33.3" lengthAdjust="spacingAndGlyphs" font-family="Liberation Serif, sans-serif" stroke="#fff" stroke-width="0.45">88</text>
<text x="93.2" y="81" font-size="12" fill="#fff" font-weight="bold">7</text>
<text x="204.2" y="81" font-size="12" fill="#fff" font-weight="bold">9</text>
<g shape-rendering="crispEdges">
<rect x="0" y="570" width="1208" height="1" fill="#e6e6e6"/>
<rect x="0" y="572" width="1208" height="22" fill="#f0f0f0"/>
<rect x="0" y="572" width="1208" height="1" fill="#1a1a1a"/>
<rect x="0" y="592" width="1208" height="2" fill="#f9f9f9"/>
<rect x="212" y="572" width="108" height="19" fill="#000"/>
<rect x="213" y="572" width="106" height="18" fill="#fff"/>
<rect x="104" y="576" width="1" height="13" fill="#808080"/>
<rect x="416" y="576" width="1" height="13" fill="#808080"/>
<rect x="524" y="576" width="1" height="13" fill="#808080"/>
<rect x="636" y="576" width="1" height="13" fill="#808080"/>
<rect x="732" y="576" width="1" height="13" fill="#808080"/>
<rect x="824" y="576" width="1" height="13" fill="#808080"/>
<rect x="912" y="576" width="1" height="13" fill="#808080"/>
<rect x="996" y="576" width="1" height="13" fill="#808080"/>
</g>
<text x="15.5" y="587" font-size="13" fill="#727272" textLength="77.0" lengthAdjust="spacingAndGlyphs">USDX,Weekly</text>
<text x="115" y="587" font-size="13" fill="#727272" textLength="85" lengthAdjust="spacingAndGlyphs">EURUSD-,Daily</text>
<text x="332" y="587" font-size="13" fill="#727272" textLength="71" lengthAdjust="spacingAndGlyphs">USDCHF-,H4</text>
<text x="427" y="587" font-size="13" fill="#727272" textLength="85.5" lengthAdjust="spacingAndGlyphs">USDCAD-,Daily</text>
<text x="535.7" y="587" font-size="13" fill="#727272" textLength="87.0" lengthAdjust="spacingAndGlyphs">USDCNH-,Daily</text>
<text x="647" y="587" font-size="13" fill="#727272" textLength="73" lengthAdjust="spacingAndGlyphs">XAUUSD-,H1</text>
<text x="743" y="587" font-size="13" fill="#727272" textLength="68.5" lengthAdjust="spacingAndGlyphs">UKOil-,Daily</text>
<text x="836.5" y="587" font-size="13" fill="#727272" textLength="63.0" lengthAdjust="spacingAndGlyphs">DJ30-,Daily</text>
<text x="923" y="587" font-size="13" fill="#727272" textLength="61.7" lengthAdjust="spacingAndGlyphs">UK100-,H1</text>
<text x="222.5" y="587" font-size="13.4" fill="#000" textLength="86" lengthAdjust="spacingAndGlyphs">AUDUSD-,Daily</text>
<path d="M1184 577.5v7l-4-3.5z" fill="#808080"/>
<path d="M1199 577.5v7l4-3.5z" fill="#808080"/>
</svg>
</body></html>
